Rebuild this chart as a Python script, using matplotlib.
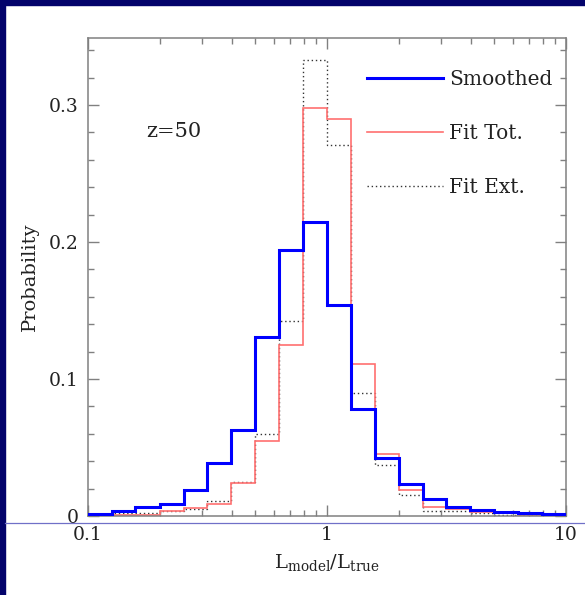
import matplotlib
matplotlib.use('Agg')
import matplotlib.pyplot as plt
from matplotlib.patches import Rectangle
from matplotlib.lines import Line2D
from matplotlib.ticker import MultipleLocator, FixedLocator, FixedFormatter

plt.rcParams['font.family'] = 'DejaVu Serif'
plt.rcParams['mathtext.fontset'] = 'dejavuserif'

# bin edges in L_model/L_true (0.1 dex bins)
edges = [0.1, 0.126, 0.158, 0.2, 0.251, 0.316, 0.398, 0.501, 0.631, 0.794,
         1.0, 1.259, 1.585, 1.995, 2.512, 3.162, 3.981, 5.012, 6.31, 7.943, 10.0]

smoothed = [0.0015, 0.0033, 0.0069, 0.0089, 0.019, 0.0385, 0.063, 0.1305, 0.1945, 0.2145,
            0.154, 0.078, 0.042, 0.0235, 0.0125, 0.0069, 0.0045, 0.0028, 0.002, 0.0012]
fit_tot = [0.001, 0.001, 0.001, 0.0035, 0.0057, 0.009, 0.024, 0.055, 0.125, 0.298,
           0.290, 0.111, 0.045, 0.019, 0.0069, 0.005, 0.003, 0.002, 0.001, 0.001]
fit_ext = [0.001, 0.002, 0.002, 0.0035, 0.005, 0.011, 0.025, 0.060, 0.1425, 0.333,
           0.271, 0.090, 0.037, 0.015, 0.004, 0.004, 0.002, 0.001, 0.001, 0.001]

gray = '#808080'
txt = '#222222'

fig = plt.figure(figsize=(5.85, 5.95), dpi=100)
fig.patch.set_facecolor('white')
# slide frame: navy strip on top and left, thin blue rule near bottom
fig.add_artist(Rectangle((0, 0.9916), 1, 0.0084, transform=fig.transFigure, color='#03036b', zorder=0))
fig.add_artist(Rectangle((0, 0), 0.0094, 1, transform=fig.transFigure, color='#03036b', zorder=0))
fig.add_artist(Line2D([0.0094, 1], [0.121, 0.121], transform=fig.transFigure, color='#7070c8', lw=0.9))

ax = fig.add_axes([0.1504, 0.1328, 0.8171, 0.8034])

ax.stairs(smoothed, edges, color='#0000ff', lw=2.2, label='Smoothed', zorder=3)
ax.stairs(fit_tot, edges, color='#ff7070', lw=1.2, label='Fit Tot.', zorder=2)
ax.stairs(fit_ext, edges, color='#333333', lw=1.0, ls=(0, (1, 2)), label='Fit Ext.', zorder=1)

ax.set_xscale('log')
ax.set_xlim(0.1, 10)
ax.set_ylim(0, 0.349)

ax.xaxis.set_major_locator(FixedLocator([0.1, 1, 10]))
ax.xaxis.set_major_formatter(FixedFormatter(['0.1', '1', '10']))
ax.yaxis.set_minor_locator(MultipleLocator(0.02))
ax.set_yticks([0, 0.1, 0.2, 0.3])
ax.set_yticklabels(['0', '0.1', '0.2', '0.3'])

ax.tick_params(which='both', direction='in', top=True, right=True, color=gray, width=1.0,
               labelsize=13.5, labelcolor=txt)
ax.tick_params(which='major', length=8, pad=7)
ax.tick_params(which='minor', length=4.5)
for s in ax.spines.values():
    s.set_color(gray)
    s.set_linewidth(1.1)

ax.set_xlabel(r'$\mathregular{L_{model}/L_{true}}$', fontsize=14, color=txt, labelpad=6)
ax.set_ylabel('Probability', fontsize=14, color=txt, labelpad=7)

ax.text(0.18, 0.805, 'z=50', transform=ax.transAxes, fontsize=15, color=txt,
        ha='center', va='center')

ax.legend(loc='upper right', bbox_to_anchor=(1.01, 0.971), frameon=False, fontsize=14.5,
          handlelength=3.8, handletextpad=0.3, labelspacing=1.75, labelcolor=txt)

fig.savefig('out.png', dpi=100)
